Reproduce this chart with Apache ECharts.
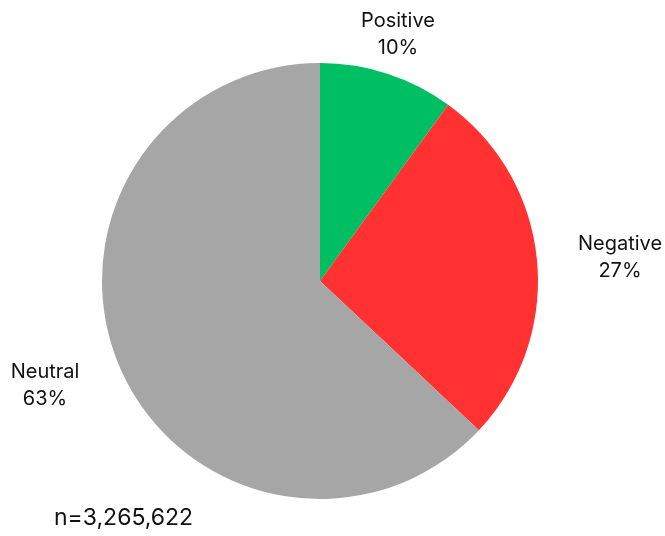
<!DOCTYPE html>
<html>
<head>
<meta charset="utf-8">
<script src="https://cdn.jsdelivr.net/npm/echarts@6/dist/echarts.min.js"></script>
<style>
  html, body { margin: 0; padding: 0; background: #ffffff; }
  #chart { width: 665px; height: 536px; }
</style>
</head>
<body>
<div id="chart"></div>
<script>
// Sentiment shares (percent)
const categories = ['Positive', 'Negative', 'Neutral'];
const shares = [10, 27, 63];
const sampleNote = 'n=3,265,622';

const sliceColors = ['#00BF63', '#FF3131', '#A6A6A6'];
// Label anchor points (pixels) for each slice label
const labelSpots = [[398, 34], [620, 257], [45, 385]];

const chart = echarts.init(document.getElementById('chart'), null, { renderer: 'canvas' });

chart.setOption({
  backgroundColor: '#ffffff',
  animation: false,
  graphic: [{
    type: 'text',
    left: 54,
    top: 507,
    style: {
      text: sampleNote,
      fontFamily: 'Inter',
      fontSize: 23,
      fill: '#111111'
    }
  }],
  series: [{
    type: 'pie',
    center: [320, 281],
    radius: 218,
    startAngle: 90,
    clockwise: true,
    silent: true,
    itemStyle: { borderWidth: 0 },
    label: {
      show: true,
      position: 'outside',
      formatter: p => p.name + '\n' + p.value + '%',
      fontFamily: 'Inter',
      fontSize: 20,
      lineHeight: 27,
      color: '#111111',
      align: 'center',
      overflow: 'none'
    },
    labelLine: { show: false },
    labelLayout: params => {
      const spot = labelSpots[params.dataIndex];
      return { x: spot[0], y: spot[1], align: 'center', verticalAlign: 'middle' };
    },
    data: categories.map((name, i) => ({
      name,
      value: shares[i],
      itemStyle: { color: sliceColors[i] }
    }))
  }]
});
</script>
</body>
</html>
